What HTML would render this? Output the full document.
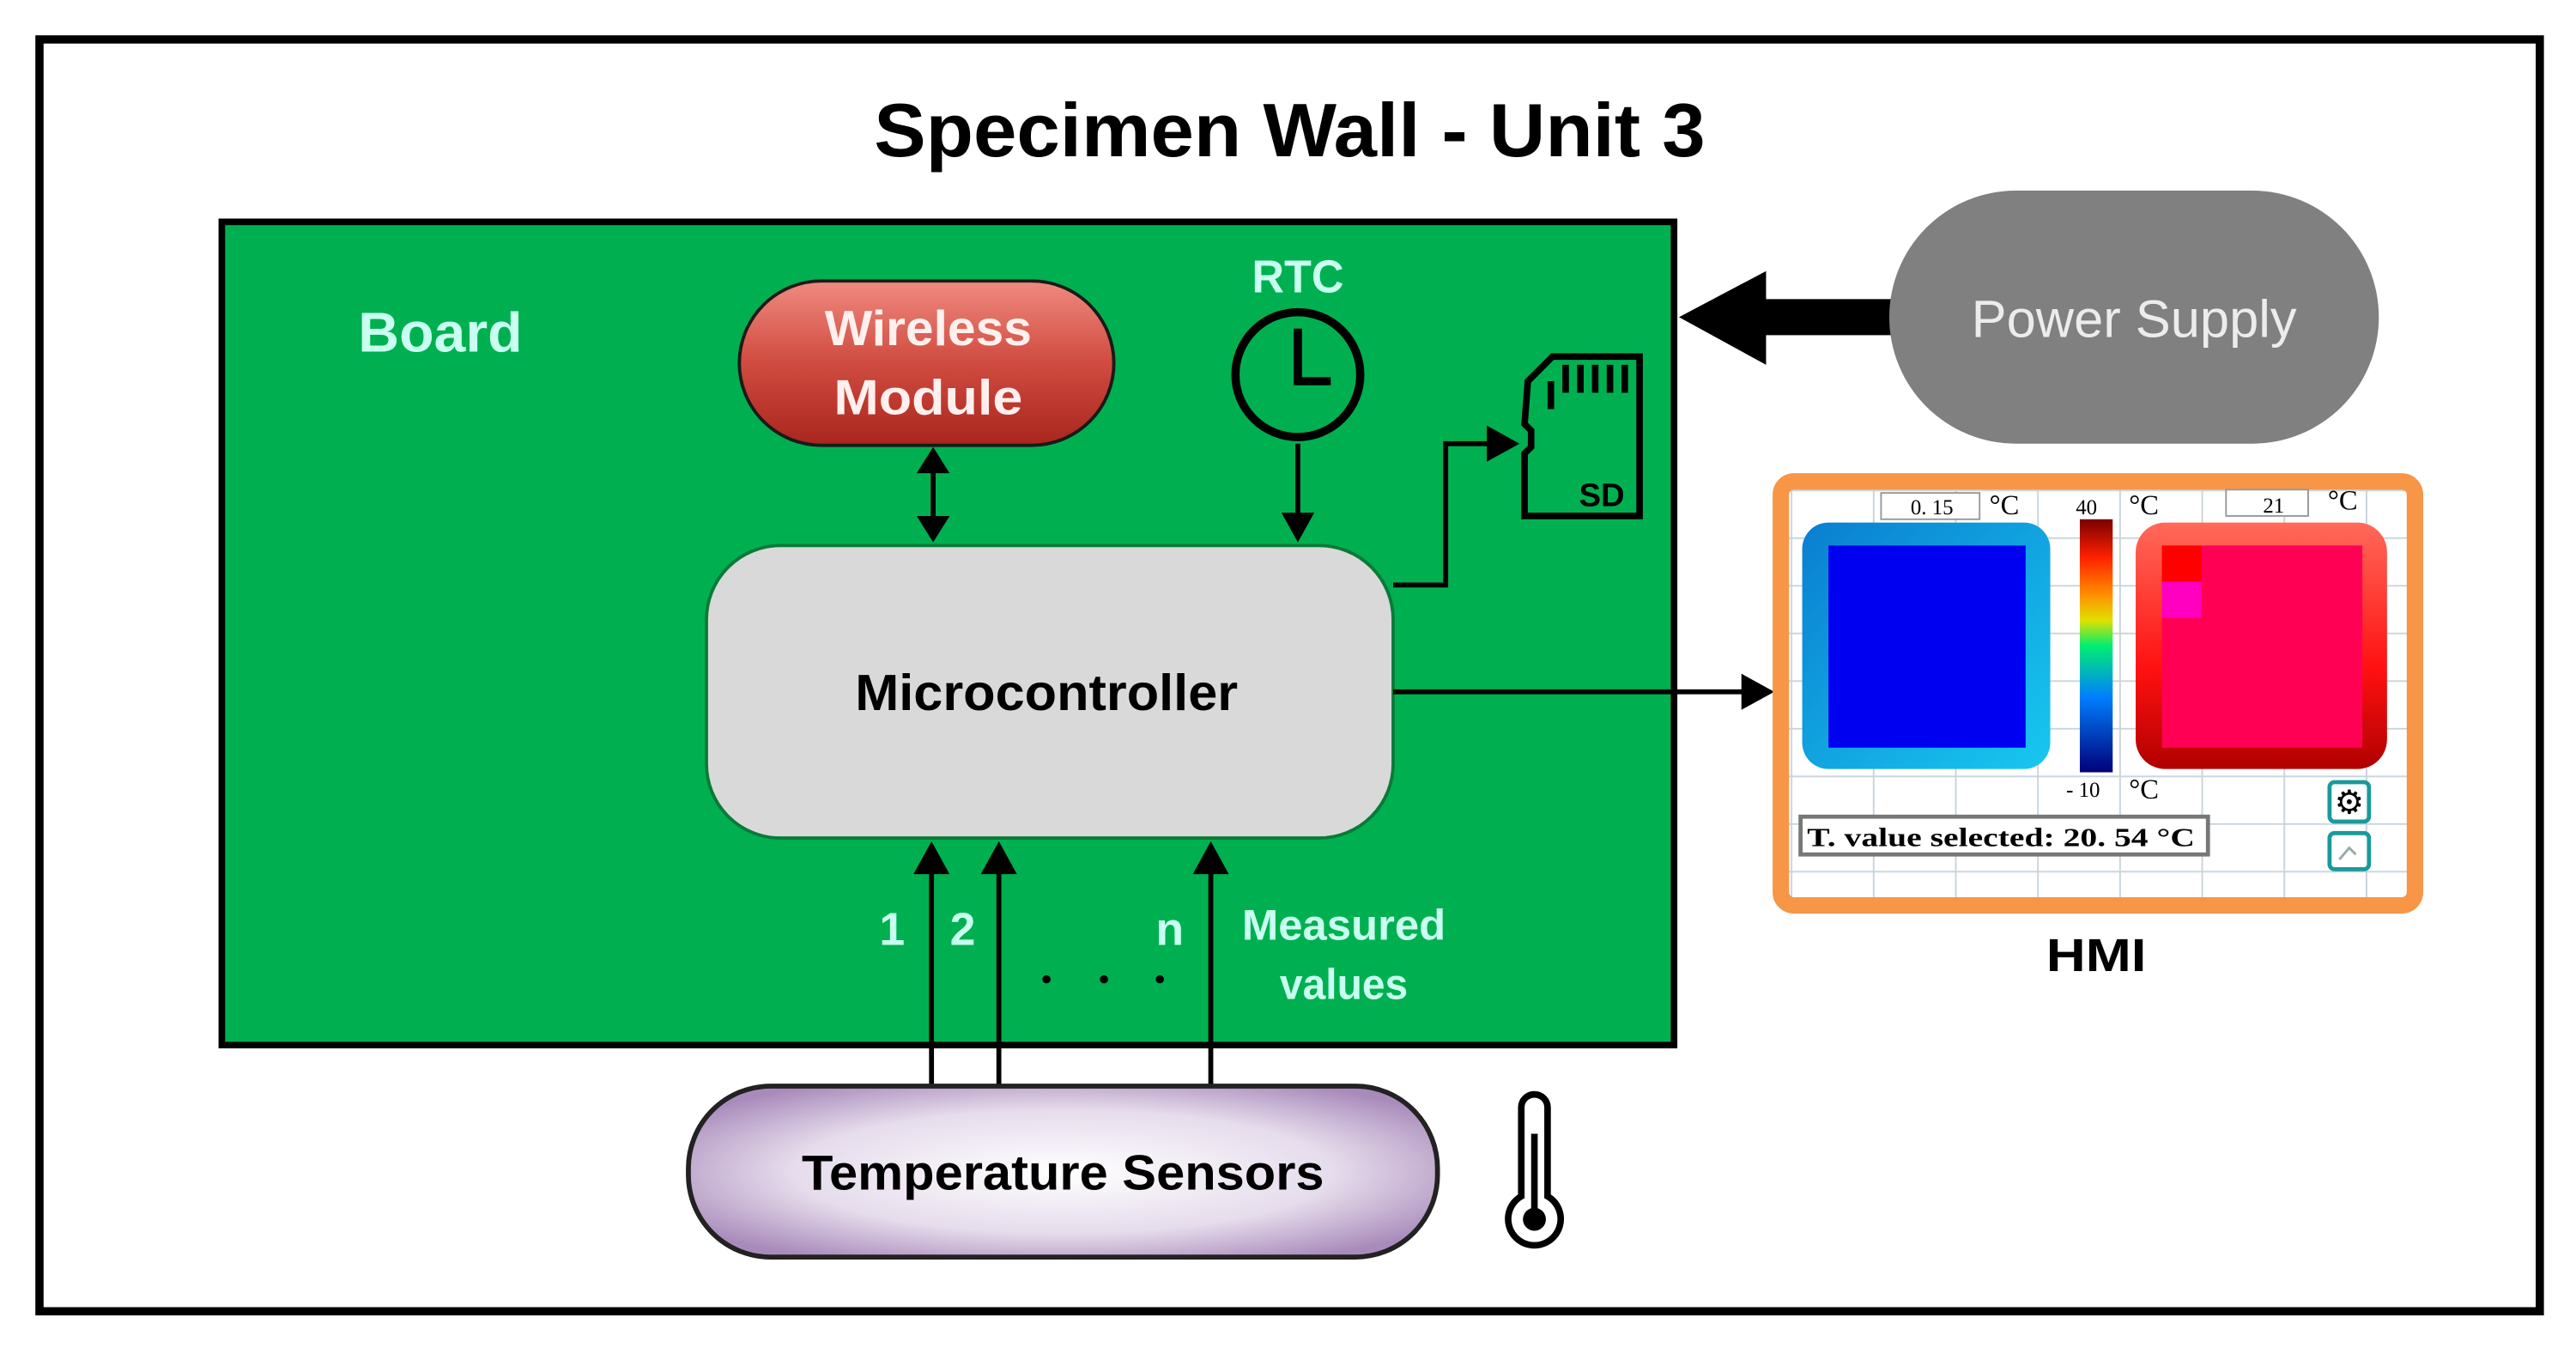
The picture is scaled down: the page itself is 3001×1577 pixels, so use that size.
<!DOCTYPE html>
<html><head><meta charset="utf-8"><style>html,body{margin:0;padding:0;background:#fff}svg{display:block}</style></head>
<body>
<svg width="3001" height="1577" viewBox="0 0 1568 824" xmlns="http://www.w3.org/2000/svg" font-family="'Liberation Sans', sans-serif">
<defs>
<linearGradient id="red" x1="0" y1="0" x2="0" y2="1"><stop offset="0" stop-color="#f08a80"/><stop offset="0.5" stop-color="#d04b40"/><stop offset="1" stop-color="#a8261e"/></linearGradient>
<radialGradient id="lav" cx="0.5" cy="0.5" r="0.6"><stop offset="0" stop-color="#ffffff"/><stop offset="0.6" stop-color="#e6dcec"/><stop offset="1" stop-color="#a98bbb"/></radialGradient>
<linearGradient id="cbar" x1="0" y1="0" x2="0" y2="1"><stop offset="0" stop-color="#7a0000"/><stop offset="0.15" stop-color="#ff2000"/><stop offset="0.3" stop-color="#ff9000"/><stop offset="0.4" stop-color="#e0e000"/><stop offset="0.5" stop-color="#00ee70"/><stop offset="0.7" stop-color="#0080ff"/><stop offset="1" stop-color="#00007a"/></linearGradient>
<linearGradient id="blu" x1="0" y1="0" x2="1" y2="1"><stop offset="0" stop-color="#0a7ed0"/><stop offset="1" stop-color="#18c8f0"/></linearGradient>
<linearGradient id="rd" x1="0" y1="0" x2="0" y2="1"><stop offset="0" stop-color="#ff6a5a"/><stop offset="0.6" stop-color="#ff1010"/><stop offset="1" stop-color="#b00000"/></linearGradient>
<pattern id="grid" width="50" height="29" patternUnits="userSpaceOnUse" x="1090" y="298"><rect width="50" height="29" fill="#fff"/><path d="M0 0.5H50M0.5 0V29" stroke="#c8d4dc" stroke-width="1"/></pattern>
</defs>
<rect x="0" y="0" width="1568" height="824" fill="#fff"/>
<rect x="24" y="24" width="1522" height="774" fill="none" stroke="#000" stroke-width="5"/>
<text x="785" y="95" font-size="46" font-weight="bold" text-anchor="middle" textLength="506" lengthAdjust="spacingAndGlyphs">Specimen Wall - Unit 3</text>

<rect x="135" y="135" width="884" height="501" fill="#00b050" stroke="#000" stroke-width="4"/>
<text x="218" y="214" font-size="34" font-weight="bold" fill="#c8fff0" textLength="100" lengthAdjust="spacingAndGlyphs">Board</text>

<rect x="450" y="171" width="228" height="100" rx="50" fill="url(#red)" stroke="#1a1a1a" stroke-width="2"/>
<text x="565" y="210" font-size="30" font-weight="bold" fill="#fff0ee" text-anchor="middle" textLength="126" lengthAdjust="spacingAndGlyphs">Wireless</text>
<text x="565" y="252" font-size="30" font-weight="bold" fill="#fff0ee" text-anchor="middle" textLength="115" lengthAdjust="spacingAndGlyphs">Module</text>

<text x="790" y="178" font-size="28" font-weight="bold" fill="#c8fff0" text-anchor="middle" textLength="56" lengthAdjust="spacingAndGlyphs">RTC</text>
<circle cx="790" cy="228" r="38" fill="none" stroke="#000" stroke-width="5"/>
<path d="M790 200V232H810" fill="none" stroke="#000" stroke-width="5"/>

<path d="M930 232L945 217H998V314H928V276L932 272V262L928 258Z" fill="none" stroke="#000" stroke-width="4"/>
<g stroke="#000" stroke-width="4"><line x1="944" y1="232" x2="944" y2="249"/><line x1="953" y1="222" x2="953" y2="239"/><line x1="962" y1="222" x2="962" y2="239"/><line x1="971" y1="222" x2="971" y2="239"/><line x1="980" y1="222" x2="980" y2="239"/><line x1="989" y1="222" x2="989" y2="239"/></g>
<text x="975" y="308" font-size="20" font-weight="bold" text-anchor="middle">SD</text>

<rect x="430" y="332" width="418" height="178" rx="45" fill="#d9d9d9" stroke="#0a7a38" stroke-width="2"/>
<text x="637" y="432" font-size="31" font-weight="bold" text-anchor="middle" textLength="233" lengthAdjust="spacingAndGlyphs">Microcontroller</text>

<g stroke="#000" stroke-width="3" fill="none">
<line x1="568" y1="285" x2="568" y2="318"/>
<line x1="790" y1="270" x2="790" y2="316"/>
<path d="M848 356H880V270H908"/>
<line x1="848" y1="421" x2="1062" y2="421"/>
<line x1="567" y1="660" x2="567" y2="528"/>
<line x1="608" y1="660" x2="608" y2="528"/>
<line x1="737" y1="660" x2="737" y2="528"/>
</g>
<g fill="#000">
<path d="M568 272L558 288H578Z"/><path d="M568 330L558 314H578Z"/>
<path d="M790 330L780 312H800Z"/>
<path d="M925 270L905 259V281Z"/>
<path d="M1080 421L1060 410V432Z"/>
<path d="M567 512L556 532H578Z"/><path d="M608 512L597 532H619Z"/><path d="M737 512L726 532H748Z"/>
<path d="M1152 182H1075V165L1022 193L1075 222V204H1152Z"/>
</g>

<text x="543" y="575" font-size="28" font-weight="bold" fill="#c8fff0" text-anchor="middle">1</text>
<text x="586" y="575" font-size="28" font-weight="bold" fill="#c8fff0" text-anchor="middle">2</text>
<text x="712" y="575" font-size="28" font-weight="bold" fill="#c8fff0" text-anchor="middle">n</text>
<g fill="#000"><circle cx="637" cy="596" r="2.5"/><circle cx="672" cy="596" r="2.5"/><circle cx="706" cy="596" r="2.5"/></g>
<text x="818" y="572" font-size="26" font-weight="bold" fill="#c8fff0" text-anchor="middle" textLength="124" lengthAdjust="spacingAndGlyphs">Measured</text>
<text x="818" y="608" font-size="26" font-weight="bold" fill="#c8fff0" text-anchor="middle" textLength="78" lengthAdjust="spacingAndGlyphs">values</text>

<rect x="1150" y="116" width="298" height="154" rx="77" fill="#808080"/>
<text x="1299" y="205" font-size="32" fill="#ececec" text-anchor="middle" textLength="198" lengthAdjust="spacingAndGlyphs">Power Supply</text>

<rect x="1084" y="293" width="386" height="258" rx="8" fill="url(#grid)" stroke="#f79646" stroke-width="10"/>
<rect x="1097" y="318" width="151" height="150" rx="16" fill="url(#blu)"/>
<rect x="1113" y="332" width="120" height="123" fill="#0000f0"/>
<rect x="1266" y="316" width="20" height="154" fill="url(#cbar)"/>
<rect x="1300" y="318" width="153" height="150" rx="18" fill="url(#rd)"/>
<rect x="1316" y="332" width="122" height="123" fill="#ff0055"/>
<rect x="1316" y="332" width="24" height="22" fill="#ff0000"/>
<rect x="1316" y="354" width="24" height="22" fill="#ff00c0"/>
<rect x="1145" y="300" width="60" height="16" fill="#fff" stroke="#999" stroke-width="1"/>
<text x="1176" y="313" font-family="'Liberation Serif', serif" font-size="13" text-anchor="middle">0. 15</text>
<text x="1220" y="313" font-family="'Liberation Serif', serif" font-size="17" text-anchor="middle">°C</text>
<text x="1270" y="313" font-family="'Liberation Serif', serif" font-size="13" text-anchor="middle">40</text>
<text x="1305" y="313" font-family="'Liberation Serif', serif" font-size="17" text-anchor="middle">°C</text>
<rect x="1355" y="298" width="50" height="16" fill="#fff" stroke="#999" stroke-width="1"/>
<text x="1384" y="312" font-family="'Liberation Serif', serif" font-size="13" text-anchor="middle">21</text>
<text x="1426" y="310" font-family="'Liberation Serif', serif" font-size="17" text-anchor="middle">°C</text>
<text x="1268" y="485" font-family="'Liberation Serif', serif" font-size="13" text-anchor="middle">- 10</text>
<text x="1305" y="486" font-family="'Liberation Serif', serif" font-size="17" text-anchor="middle">°C</text>
<rect x="1096" y="497" width="248" height="23" fill="#fff" stroke="#777" stroke-width="2.5"/>
<text x="1100" y="515" font-family="'Liberation Serif', serif" font-size="16" font-weight="bold" textLength="236" lengthAdjust="spacingAndGlyphs">T. value selected: 20. 54 °C</text>
<rect x="1418" y="476" width="24" height="24" rx="3" fill="#fff" stroke="#1a9a9a" stroke-width="2.5"/>
<text x="1430" y="495" font-size="20" text-anchor="middle">⚙</text>
<rect x="1418" y="507" width="24" height="22" rx="3" fill="#fff" stroke="#1a9a9a" stroke-width="2.5"/>
<path d="M1424 523L1430 516L1434 520" stroke="#9aa" stroke-width="1.5" fill="none"/>
<text x="1276" y="591" font-size="28" font-weight="bold" text-anchor="middle" textLength="61" lengthAdjust="spacingAndGlyphs">HMI</text>

<rect x="419" y="661" width="456" height="104" rx="50" fill="url(#lav)" stroke="#222" stroke-width="3"/>
<text x="647" y="724" font-size="30" font-weight="bold" text-anchor="middle" textLength="318" lengthAdjust="spacingAndGlyphs">Temperature Sensors</text>

<path d="M926 728V674A8 8 0 0 1 942 674V728A16 16 0 1 1 926 728Z" fill="#fff" stroke="#000" stroke-width="4"/>
<line x1="934" y1="690" x2="934" y2="738" stroke="#000" stroke-width="4"/>
<circle cx="934" cy="742" r="7" fill="#000"/>
</svg>
</body></html>
